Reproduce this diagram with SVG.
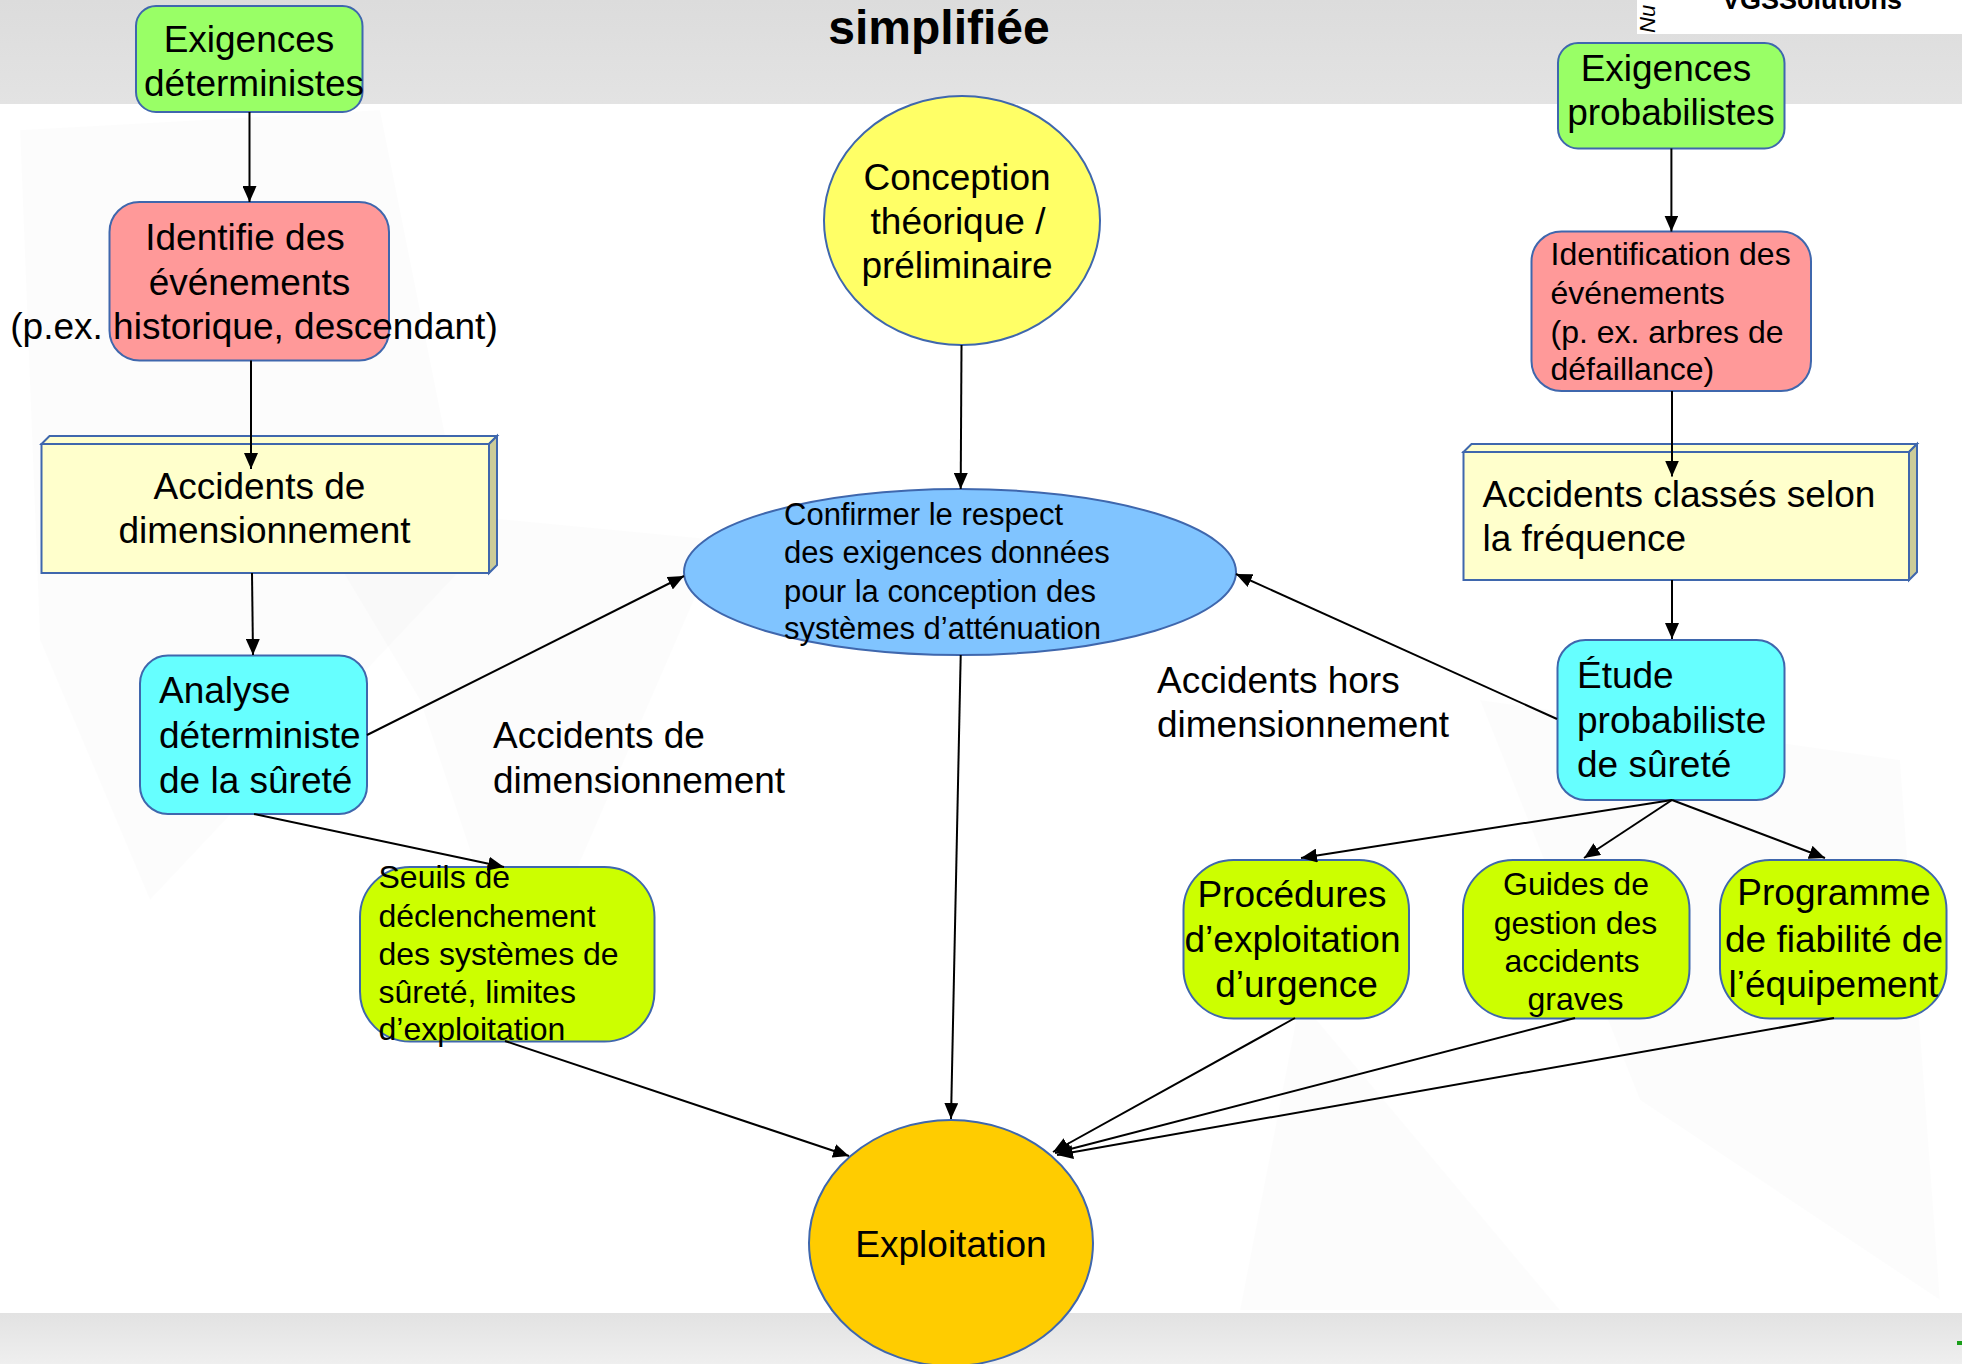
<svg xmlns="http://www.w3.org/2000/svg" width="1962" height="1364" viewBox="0 0 1962 1364">
<defs>
<linearGradient id="hdr" x1="0" y1="0" x2="0" y2="1"><stop offset="0" stop-color="#dcdcdc"/><stop offset="1" stop-color="#e3e3e3"/></linearGradient>
<linearGradient id="ftr" x1="0" y1="0" x2="0" y2="1"><stop offset="0" stop-color="#e2e2e2"/><stop offset="1" stop-color="#efefef"/></linearGradient>
<marker id="ah" viewBox="0 0 16 14" refX="16" refY="7" markerWidth="16" markerHeight="14" orient="auto" markerUnits="userSpaceOnUse"><path d="M0,0 L16,7 L0,14 z" fill="#000"/></marker>
<style>
.t{font-family:"Liberation Sans",Arial,sans-serif;fill:#000}
.L{font-size:37px}
.S{font-size:32px}
.c{text-anchor:middle}
.n{stroke:#3f67ad;stroke-width:2}
.g{fill:#99ff66}
.p{fill:#ff9999}
.y{fill:#ffffcc}
.ys{fill:#cccc99}
.cy{fill:#66ffff}
.lm{fill:#ccff00}
.e{stroke:#000;stroke-width:2;fill:none;marker-end:url(#ah)}
.w{fill:#000;opacity:0.012}
</style>
</defs>
<rect width="1962" height="1364" fill="#fff"/>
<g id="background">
<polygon class="w" points="20,130 380,110 470,560 150,900 40,640"/>
<polygon class="w" points="300,500 720,540 520,1000 420,700"/>
<polygon class="w" points="1480,700 1900,760 1940,1300 1640,1100"/>
<polygon class="w" points="1300,1000 1560,1310 1240,1310"/>
<rect x="0" y="0" width="1962" height="104" fill="url(#hdr)"/>
<rect x="0" y="1313" width="1962" height="51" fill="url(#ftr)"/>
<rect x="1637" y="0" width="325" height="34" fill="#fff"/>
<text class="t" x="1812" y="9" font-size="27" font-weight="bold" text-anchor="middle" fill="#222">VGSSolutions</text>
<text class="t" transform="translate(1655,33) rotate(-90)" font-size="22" font-style="italic">Nu</text>
<text class="t c" x="939" y="44" font-size="48" font-weight="bold">simplifiée</text>
<rect x="1957" y="1341" width="5" height="4" fill="#1a9e1a"/>
</g>
<g id="label-dba">
<text class="t L" x="493" y="748">Accidents de</text>
<text class="t L" x="493" y="793">dimensionnement</text>
</g>
<g id="label-bdba">
<text class="t L" x="1157" y="693">Accidents hors</text>
<text class="t L" x="1157" y="737">dimensionnement</text>
</g>
<g id="n-exig-det">
<rect class="n g" x="136" y="6" width="226.5" height="106" rx="20"/>
<text class="t L c" x="249" y="52">Exigences</text>
<text class="t L c" x="254" y="96">déterministes</text>
</g>
<g id="n-identifie">
<rect class="n p" x="109.5" y="202" width="279.5" height="158.5" rx="30"/>
<text class="t L c" x="245" y="249.5">Identifie des</text>
<text class="t L c" x="249.5" y="294.5">événements</text>
<text class="t L c" x="254" y="338.5">(p.ex. historique, descendant)</text>
</g>
<g id="n-acc-dim">
<polygon class="n y" points="41.5,444 49.5,436 497,436 489,444"/>
<polygon class="n ys" points="489,444 497,436 497,565 489,573"/>
<rect class="n y" x="41.5" y="444" width="447.5" height="129"/>
<text class="t L c" x="259.5" y="499">Accidents de</text>
<text class="t L c" x="264.5" y="542.5">dimensionnement</text>
</g>
<g id="n-analyse">
<rect class="n cy" x="140" y="655.5" width="227" height="158.5" rx="28"/>
<text class="t L" x="159" y="703">Analyse</text>
<text class="t L" x="159" y="748">déterministe</text>
<text class="t L" x="159" y="792.5">de la sûreté</text>
</g>
<g id="n-seuils">
<rect class="n lm" x="360" y="867" width="294.5" height="174.5" rx="50"/>
<text class="t S" x="378.5" y="888">Seuils de</text>
<text class="t S" x="378.5" y="926.5">déclenchement</text>
<text class="t S" x="378.5" y="965">des systèmes de</text>
<text class="t S" x="378.5" y="1003">sûreté, limites</text>
<text class="t S" x="378.5" y="1040">d’exploitation</text>
</g>
<g id="n-conception">
<ellipse cx="962" cy="220.5" rx="138" ry="124.5" fill="#ffff66" class="n"/>
<text class="t L c" x="957" y="190">Conception</text>
<text class="t L c" x="958" y="234">théorique /</text>
<text class="t L c" x="957" y="278">préliminaire</text>
</g>
<g id="n-confirmer">
<ellipse cx="960" cy="572" rx="276" ry="83" fill="#80c4ff" class="n"/>
<text class="t" font-size="31" x="784" y="524.5">Confirmer le respect</text>
<text class="t" font-size="31" x="784" y="563">des exigences données</text>
<text class="t" font-size="31" x="784" y="602">pour la conception des</text>
<text class="t" font-size="31" x="784" y="639">systèmes d’atténuation</text>
</g>
<g id="n-exploitation">
<ellipse cx="951" cy="1243" rx="142" ry="123" fill="#ffcc00" class="n"/>
<text class="t L c" x="951" y="1257">Exploitation</text>
</g>
<g id="n-exig-prob">
<rect class="n g" x="1558" y="43" width="226.5" height="105.5" rx="20"/>
<text class="t L c" x="1666" y="80.5">Exigences</text>
<text class="t L c" x="1671" y="124.5">probabilistes</text>
</g>
<g id="n-identification">
<rect class="n p" x="1531.5" y="231.5" width="279.5" height="159.5" rx="30"/>
<text class="t S" x="1550.5" y="265">Identification des</text>
<text class="t S" x="1550.5" y="303.5">événements</text>
<text class="t S" x="1550.5" y="342.5">(p. ex. arbres de</text>
<text class="t S" x="1550.5" y="380">défaillance)</text>
</g>
<g id="n-acc-freq">
<polygon class="n y" points="1463.5,452 1471.5,444 1917,444 1909,452"/>
<polygon class="n ys" points="1909,452 1917,444 1917,572 1909,580"/>
<rect class="n y" x="1463.5" y="452" width="445.5" height="128"/>
<text class="t L" x="1482.5" y="507">Accidents classés selon</text>
<text class="t L" x="1482.5" y="551">la fréquence</text>
</g>
<g id="n-etude">
<rect class="n cy" x="1557.5" y="640" width="227" height="160" rx="28"/>
<text class="t L" x="1577" y="688">Étude</text>
<text class="t L" x="1577" y="733">probabiliste</text>
<text class="t L" x="1577" y="777">de sûreté</text>
</g>
<g id="n-procedures">
<rect class="n lm" x="1183.5" y="860" width="225.5" height="158.5" rx="50"/>
<text class="t L c" x="1292" y="906.5">Procédures</text>
<text class="t L c" x="1292.5" y="951.5">d’exploitation</text>
<text class="t L c" x="1296.5" y="996.5">d’urgence</text>
</g>
<g id="n-guides">
<rect class="n lm" x="1463" y="860" width="226.5" height="158.5" rx="50"/>
<text class="t S c" x="1576" y="895">Guides de</text>
<text class="t S c" x="1575.5" y="933.5">gestion des</text>
<text class="t S c" x="1572" y="971.5">accidents</text>
<text class="t S c" x="1575.5" y="1010">graves</text>
</g>
<g id="n-programme">
<rect class="n lm" x="1720" y="860" width="226.5" height="158.5" rx="50"/>
<text class="t L c" x="1834" y="905">Programme</text>
<text class="t L c" x="1834" y="951.5">de fiabilité de</text>
<text class="t L c" x="1833.5" y="996.5">l’équipement</text>
</g>
<g id="connectors">
<line class="e" x1="249.5" y1="112" x2="249.5" y2="202"/>
<line class="e" x1="251" y1="360.5" x2="251" y2="469"/>
<line class="e" x1="252" y1="573" x2="253" y2="655"/>
<line class="e" x1="367" y1="735" x2="684" y2="576"/>
<line class="e" x1="254" y1="814" x2="504" y2="867"/>
<line class="e" x1="505" y1="1041" x2="849" y2="1156"/>
<line class="e" x1="961.5" y1="345" x2="960.7" y2="489"/>
<line class="e" x1="960.7" y1="655" x2="951" y2="1119"/>
<line class="e" x1="1671.4" y1="148.5" x2="1671.4" y2="231.5"/>
<line class="e" x1="1672" y1="391" x2="1672" y2="476.5"/>
<line class="e" x1="1672" y1="580" x2="1672" y2="639"/>
<line class="e" x1="1557" y1="719" x2="1236" y2="574"/>
<line class="e" x1="1672" y1="800" x2="1301" y2="858"/>
<line class="e" x1="1672" y1="800" x2="1584" y2="858"/>
<line class="e" x1="1672" y1="800" x2="1825" y2="858"/>
<line class="e" x1="1295" y1="1018" x2="1053" y2="1152"/>
<line class="e" x1="1575" y1="1018" x2="1055" y2="1153"/>
<line class="e" x1="1834" y1="1018" x2="1057" y2="1155"/>
</g>
</svg>
